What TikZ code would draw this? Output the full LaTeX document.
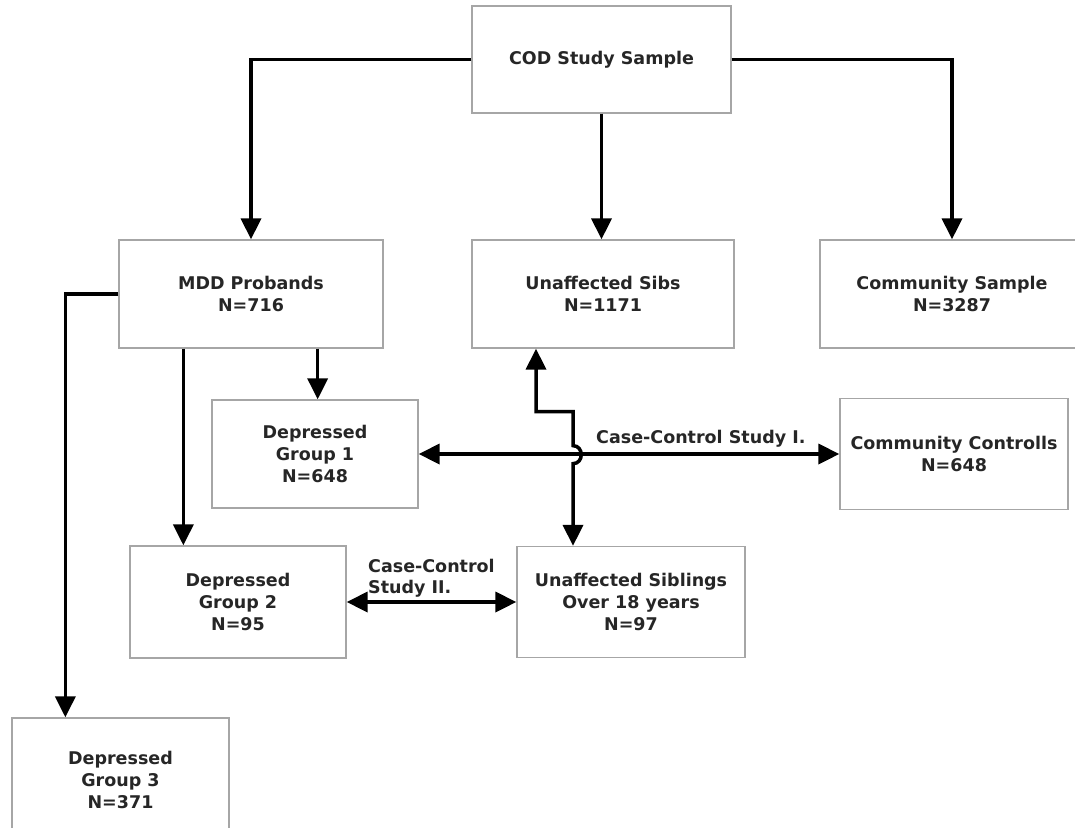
\documentclass[tikz,border=0pt]{standalone}
\usepackage{fontspec}
\setmainfont{DejaVu Sans}
\usetikzlibrary{arrows.meta}
\tikzset{box/.style={shape=rectangle, draw=gray!70, line width=1.3pt, fill=white,
  align=center, inner sep=0, font=\bfseries\fontsize{17.5}{22}\selectfont, text=black!85},
  link/.style={line width=3.5pt, -{Triangle[length=21pt, width=20pt]}},
  twolink/.style={line width=3.5pt, {Triangle[length=21pt, width=20pt]}-{Triangle[length=21pt, width=20pt]}},
  note/.style={font=\bfseries\fontsize{17.5}{21}\selectfont, text=black!85, inner sep=0, align=left}}

\begin{document}
\begin{tikzpicture}[x=1pt, y=-1pt]
    \clip (0,0) rectangle (1075,827);
    \fill [white] (0,0) rectangle (1075,827);
    \node [box, minimum width=259pt, minimum height=107pt] at (601.5,59.5) (cod) {COD Study Sample};
    \node [box, minimum width=264pt, minimum height=108pt] at (251,294) (mdd) {MDD Probands\\N=716};
    \node [box, minimum width=262pt, minimum height=108pt] at (603,294) (sibs) {Unaffected Sibs\\N=1171};
    \node [box, minimum width=264pt, minimum height=108pt] at (952,294) (comm) {Community Sample\\N=3287};
    \node [box, minimum width=206pt, minimum height=108pt] at (315,454) (dep-1) {Depressed\\Group 1\\N=648};
    \node [box, minimum width=228pt, minimum height=111pt] at (954,454) (ctrl) {Community Controlls\\N=648};
    \node [box, minimum width=216pt, minimum height=112pt] at (238,602) (dep-2) {Depressed\\Group 2\\N=95};
    \node [box, minimum width=228pt, minimum height=111pt] at (631,602) (usib) {Unaffected Siblings\\Over 18 years\\N=97};
    \node [box, minimum width=217pt, minimum height=124pt] at (120.5,780) (dep-3) {Depressed\\Group 3\\N=371};

    \draw [link] (cod.west) -| (mdd.north);
    \draw [link] (cod.south) -- (cod.south |- sibs.north);
    \draw [link] (cod.east) -| (comm.north);
    \draw [link] (mdd.west) -| ([xshift=54pt]dep-3.north west);
    \draw [link] ([xshift=65pt]mdd.south west) -- ([xshift=65pt]mdd.south west |- dep-2.north);
    \draw [link] ([xshift=-66pt]mdd.south east) -- ([xshift=-66pt]mdd.south east |- dep-1.north);

    \draw [twolink] (dep-1.east) -- (ctrl.west);
    \node [note, anchor=base west] at (596,443) (cc-1) {Case-Control Study I.};
    \draw [twolink] ([xshift=-67pt]sibs.south) -- ++(0,63) -- ++(37,0) -- ++(0,34)
        .. controls +(11,0) and +(11,0) .. ++(0,18) -- ([xshift=-58pt]usib.north);
    \draw [twolink] (dep-2.east) -- (usib.west);
    \node [note, anchor=north west] at (368,559) (cc-2) {Case-Control\\Study II.};
\end{tikzpicture}
\end{document}
